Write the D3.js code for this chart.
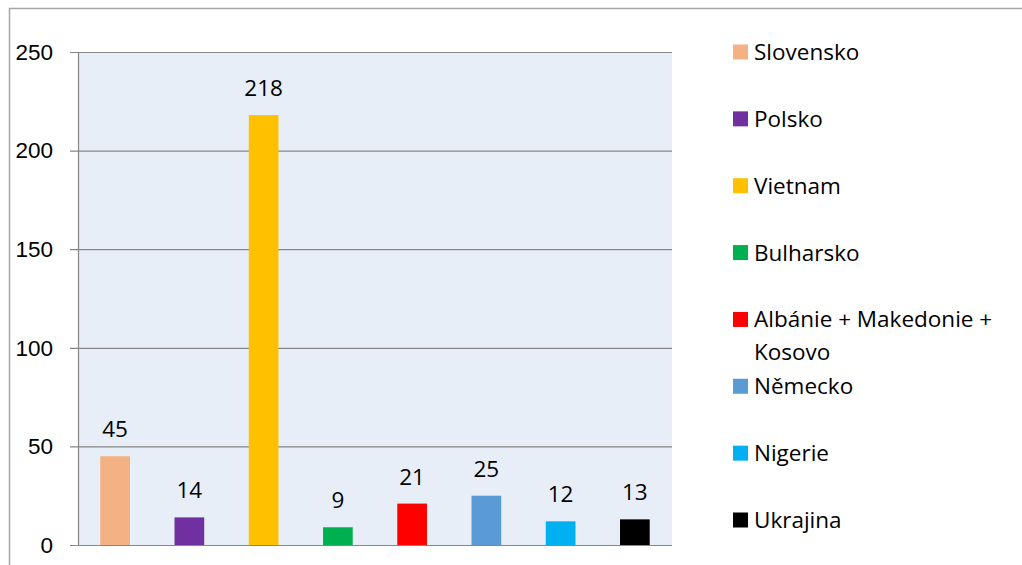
<!DOCTYPE html>
<html>
<head>
<meta charset="utf-8">
<script src="https://cdn.jsdelivr.net/npm/d3@7"></script>
<style>
  body { margin: 0; background: #fff; }
  svg { display: block; font-family: "Open Sans", "Noto Sans", sans-serif; }
</style>
</head>
<body>
<div id="chart"></div>
<script>
// Data
var countries = ["Slovensko", "Polsko", "Vietnam", "Bulharsko", "Albánie + Makedonie + Kosovo", "Německo", "Nigerie", "Ukrajina"];
var values = [45, 14, 218, 9, 21, 25, 12, 13];
var colors = ["#F4B183", "#7030A0", "#FFC000", "#00B050", "#FF0000", "#5B9BD5", "#00B0F0", "#000000"];
var yTicks = [0, 50, 100, 150, 200, 250];

var W = 1022, H = 565;
var plot = { left: 78, right: 672, top: 52, bottom: 545 };
var fontSize = "22.5px";

var svg = d3.select("#chart").append("svg")
    .attr("width", W)
    .attr("height", H);

// outer frame (only top and left visible)
svg.append("path")
    .attr("d", "M9.5," + H + "V8.5H" + W)
    .attr("fill", "none")
    .attr("stroke", "#A6A6A6")
    .attr("stroke-width", 1.5);

var x = d3.scaleBand().domain(countries).range([plot.left, plot.right]).paddingInner(0.6).paddingOuter(0.3);
var y = d3.scaleLinear().domain([0, 250]).range([plot.bottom, plot.top]);

// plot background
svg.append("rect")
    .attr("x", plot.left)
    .attr("y", plot.top)
    .attr("width", plot.right - plot.left)
    .attr("height", plot.bottom - plot.top)
    .attr("fill", "#E7EEF8");

// gridlines + y axis
var yAxis = d3.axisLeft(y).tickValues(yTicks).tickSize(-(plot.right - plot.left)).tickPadding(25);
var gy = svg.append("g")
    .attr("transform", "translate(" + plot.left + ",0)")
    .call(yAxis);
gy.select(".domain").remove();
gy.selectAll(".tick line")
    .attr("x1", -8)
    .attr("stroke", "#868686")
    .attr("stroke-width", 1.2);
gy.selectAll(".tick text")
    .attr("fill", "#000")
    .style("font-size", fontSize);

// left axis line
svg.append("line")
    .attr("x1", plot.left + 0.5).attr("x2", plot.left + 0.5)
    .attr("y1", plot.top).attr("y2", plot.bottom)
    .attr("stroke", "#868686")
    .attr("stroke-width", 1.2);

// bars
svg.selectAll("rect.bar")
    .data(values)
    .enter().append("rect")
    .attr("class", "bar")
    .attr("x", function(d, i) { return x(countries[i]); })
    .attr("width", x.bandwidth())
    .attr("y", function(d) { return y(d); })
    .attr("height", function(d) { return y(0) - y(d); })
    .attr("fill", function(d, i) { return colors[i]; });

// value labels
svg.selectAll("text.val")
    .data(values)
    .enter().append("text")
    .attr("class", "val")
    .attr("text-anchor", "middle")
    .attr("x", function(d, i) { return x(countries[i]) + x.bandwidth() / 2; })
    .attr("y", function(d) { return y(d) - 19; })
    .style("font-size", fontSize)
    .text(function(d) { return d; });

// legend
var legendY = d3.scalePoint().domain(countries).range([52, 520]);
var lg = svg.selectAll("g.leg")
    .data(countries)
    .enter().append("g")
    .attr("class", "leg")
    .attr("transform", function(d) { return "translate(733," + legendY(d) + ")"; });
lg.append("rect")
    .attr("y", -7.5)
    .attr("width", 15)
    .attr("height", 15)
    .attr("fill", function(d, i) { return colors[i]; });
lg.append("text")
    .attr("x", 21)
    .attr("y", 8)
    .style("font-size", fontSize)
    .each(function(d) {
        var t = d3.select(this);
        if (d.indexOf("Albánie") === 0) {
            t.append("tspan").attr("x", 21).text("Albánie + Makedonie +");
            t.append("tspan").attr("x", 21).attr("dy", 33).text("Kosovo");
        } else {
            t.text(d);
        }
    });
</script>
</body>
</html>
